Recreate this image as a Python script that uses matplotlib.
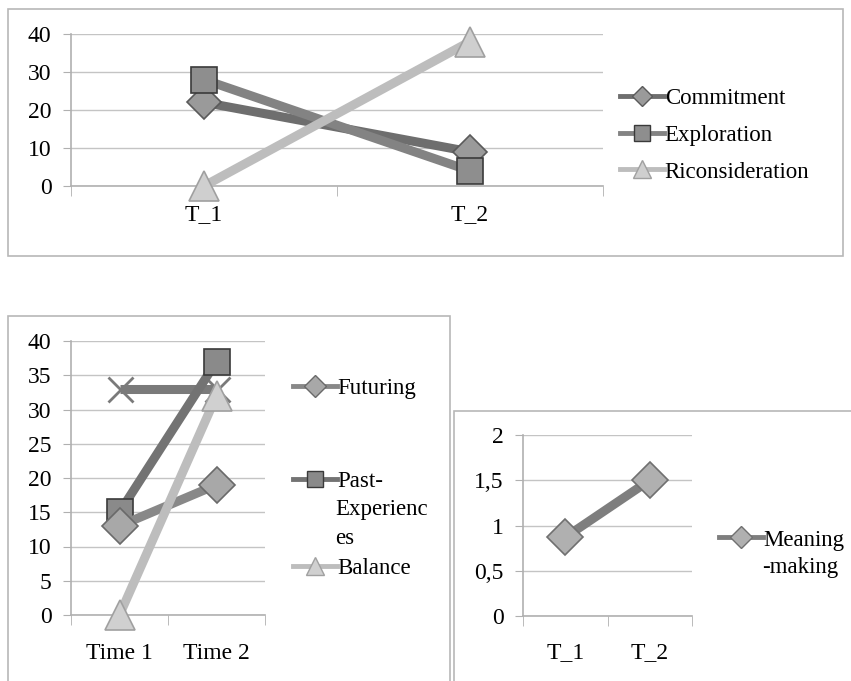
import matplotlib
matplotlib.use("Agg")
import matplotlib.pyplot as plt
from matplotlib.lines import Line2D
from matplotlib.patches import Rectangle

plt.rcParams['font.family'] = ['Liberation Serif', 'DejaVu Serif']
plt.rcParams['font.size'] = 17

W, H = 851, 681

# --- data ---
top_cats = ['T_1', 'T_2']
commitment = [22, 9]
exploration = [28, 4]
riconsideration = [0, 38]

mid_cats = ['Time 1', 'Time 2']
futuring = [13, 19]
past_exp = [15, 37]
balance = [0, 32]
extra_series = [33, 33]

right_cats = ['T_1', 'T_2']
meaning = [0.87, 1.5]

# styles: (line colour, marker, marker face, marker edge, size)
sty_commit = ('#6e6e6e', 'D', '#9a9a9a', '#5a5a5a', 17)
sty_explor = ('#838383', 's', '#8e8e8e', '#3a3a3a', 19)
sty_recons = ('#bdbdbd', '^', '#cfcfcf', '#a0a0a0', 21)
sty_futur = ('#888888', 'D', '#a8a8a8', '#6a6a6a', 18)
sty_past = ('#737373', 's', '#8a8a8a', '#3a3a3a', 19)
sty_bal = ('#bdbdbd', '^', '#d0d0d0', '#a0a0a0', 21)
sty_extra = ('#7a7a7a', 'x', '#7a7a7a', '#7a7a7a', 18)
sty_mean = ('#7e7e7e', 'D', '#b0b0b0', '#707070', 18)


def px_axes(fig, l, t, r, b):
    return fig.add_axes([l / W, 1 - b / H, (r - l) / W, (b - t) / H])


def frame(fig, l, t, r, b):
    fig.patches.append(Rectangle((l / W, 1 - b / H), (r - l) / W, (b - t) / H,
                                 transform=fig.transFigure, fill=False,
                                 edgecolor='#b8b8b8', linewidth=1.2, zorder=0))


def style_axes(ax, cats, ymax, yticks, ylabels, xpad):
    n = len(cats)
    ax.set_xlim(-0.5, n - 0.5)
    ax.set_ylim(0, ymax)
    ax.set_xticks(range(n))
    ax.set_xticklabels(cats)
    ax.set_xticks([i - 0.5 for i in range(n + 1)], minor=True)
    ax.tick_params(axis='x', which='major', length=0, pad=xpad)
    ax.tick_params(axis='x', which='minor', length=7, color='#b0b0b0', direction='out')
    ax.set_yticks(yticks)
    ax.set_yticklabels(ylabels)
    ax.tick_params(axis='y', length=6, color='#b0b0b0', pad=8)
    ax.grid(axis='y', color='#c4c4c4', linewidth=1)
    ax.set_axisbelow(True)
    for s in ['top', 'right']:
        ax.spines[s].set_visible(False)
    for s in ['left', 'bottom']:
        ax.spines[s].set_color('#b0b0b0')
        ax.spines[s].set_linewidth(1.2)
    ax.set_facecolor('none')


def draw(ax, vals, st, lw=6.5):
    c, m, fc, ec, ms = st
    if m == 'x':
        ax.plot(range(len(vals)), vals, color=c, lw=lw, marker=m, ms=ms,
                mew=2, mec=ec, solid_capstyle='butt', zorder=3, clip_on=False)
    else:
        ax.plot(range(len(vals)), vals, color=c, lw=lw, marker=m, ms=ms,
                mfc=fc, mec=ec, mew=1.2, solid_capstyle='butt', zorder=3,
                clip_on=False)


def legend_entry(fig, label, st, x, y):
    c, m, fc, ec, ms = st
    h = Line2D([], [], color=c, lw=3.5, marker=m, ms=ms * 0.6, mfc=fc, mec=ec, mew=1)
    fig.legend([h], [label], loc='center left',
               bbox_to_anchor=(x / W, 1 - y / H),
               frameon=False, handlelength=1.9, handletextpad=0.05,
               borderpad=0, borderaxespad=0, fontsize=16.5)


fig = plt.figure(figsize=(W / 100, H / 100), dpi=100)

# frames
frame(fig, 8, 9, 843, 256)
frame(fig, 8, 316, 450, 690)
frame(fig, 454, 411, 860, 690)

# --- top panel ---
ax1 = px_axes(fig, 71, 34, 603, 186)
style_axes(ax1, top_cats, 40, [0, 10, 20, 30, 40], ['0', '10', '20', '30', '40'], 13)
draw(ax1, commitment, sty_commit)
draw(ax1, exploration, sty_explor)
draw(ax1, riconsideration, sty_recons)
legend_entry(fig, 'Commitment', sty_commit, 620, 98)
legend_entry(fig, 'Exploration', sty_explor, 620, 135)
legend_entry(fig, 'Riconsideration', sty_recons, 620, 172)

# --- bottom left panel ---
ax2 = px_axes(fig, 71, 341, 265, 615)
style_axes(ax2, mid_cats, 40, list(range(0, 41, 5)),
           [str(v) for v in range(0, 41, 5)], 20)
draw(ax2, extra_series, sty_extra)
draw(ax2, past_exp, sty_past)
draw(ax2, futuring, sty_futur)
draw(ax2, balance, sty_bal)
legend_entry(fig, 'Futuring', sty_futur, 293, 388)
legend_entry(fig, 'Past-', sty_past, 293, 481)
fig.text(335 / W, 1 - 509 / H, 'Experienc', va='center', ha='left', fontsize=16.5)
fig.text(335 / W, 1 - 538 / H, 'es', va='center', ha='left', fontsize=16.5)
legend_entry(fig, 'Balance', sty_bal, 293, 568)

# --- bottom right panel ---
ax3 = px_axes(fig, 523, 435, 692, 616)
style_axes(ax3, right_cats, 2, [0, 0.5, 1, 1.5, 2], ['0', '0,5', '1', '1,5', '2'], 19)
draw(ax3, meaning, sty_mean)
legend_entry(fig, 'Meaning', sty_mean, 719, 540)
fig.text(762 / W, 1 - 567 / H, '-making', va='center', ha='left', fontsize=16.5)

fig.savefig('out.png', dpi=100)
